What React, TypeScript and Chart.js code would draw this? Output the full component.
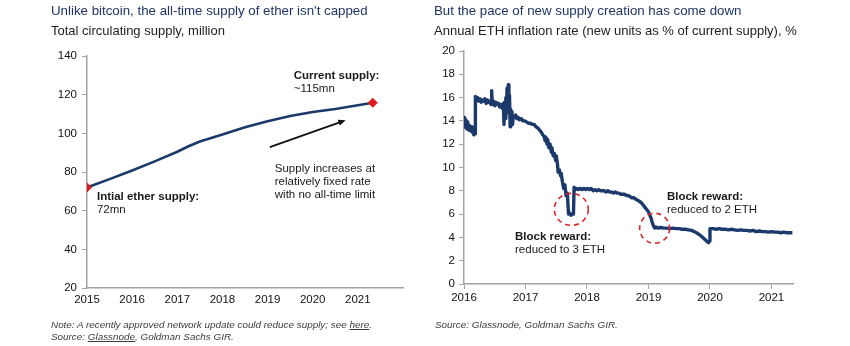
import React, { useEffect, useRef } from 'react';
import { Chart, registerables } from 'chart.js';

Chart.register(...registerables);

// ---------- Data: left panel (total circulating supply, million) ----------
const supplyYears = [
  2015.0, 2015.5, 2016.0, 2016.5, 2017.0, 2017.25, 2017.5, 2017.75, 2018.0,
  2018.5, 2019.0, 2019.5, 2020.0, 2020.5, 2021.0, 2021.33,
];
const supplyValues = [
  72.0, 76.3, 80.8, 85.5, 90.5, 93.3, 95.8, 97.6, 99.4,
  103.2, 106.2, 109.0, 111.0, 112.6, 114.5, 115.8,
];
const supplyXTicks = [2015, 2016, 2017, 2018, 2019, 2020, 2021];
const supplyYTicks = [20, 40, 60, 80, 100, 120, 140];

// ---------- Data: right panel (annual ETH inflation rate, %) ----------
const inflationYears = [
  2016.0, 2016.01, 2016.02, 2016.03, 2016.04, 2016.05, 2016.06, 2016.07, 2016.08, 2016.09,
  2016.1, 2016.11, 2016.12, 2016.13, 2016.14, 2016.15, 2016.16, 2016.17, 2016.18, 2016.185,
  2016.2, 2016.22, 2016.24, 2016.26, 2016.28, 2016.3, 2016.32, 2016.34, 2016.36, 2016.38,
  2016.4, 2016.42, 2016.44, 2016.45, 2016.46, 2016.48, 2016.5, 2016.52, 2016.54, 2016.56,
  2016.58, 2016.6, 2016.62, 2016.64, 2016.65, 2016.66, 2016.67, 2016.68, 2016.69, 2016.7,
  2016.71, 2016.72, 2016.73, 2016.74, 2016.75, 2016.76, 2016.77, 2016.78, 2016.79, 2016.8,
  2016.82, 2016.84, 2016.86, 2016.88, 2016.9, 2016.93, 2016.96, 2016.99, 2017.02, 2017.05,
  2017.08, 2017.11, 2017.14, 2017.17, 2017.2, 2017.23, 2017.26, 2017.28, 2017.3, 2017.32,
  2017.33, 2017.35, 2017.36, 2017.38, 2017.4, 2017.42, 2017.43, 2017.45, 2017.47, 2017.49,
  2017.5, 2017.52, 2017.53, 2017.55, 2017.57, 2017.58, 2017.6, 2017.62, 2017.64, 2017.66,
  2017.68, 2017.7, 2017.72, 2017.74, 2017.76, 2017.78, 2017.79, 2017.81, 2017.83, 2017.86,
  2017.89, 2017.92, 2017.95, 2017.98, 2018.01, 2018.04, 2018.07, 2018.1, 2018.13, 2018.16,
  2018.19, 2018.22, 2018.25, 2018.28, 2018.31, 2018.34, 2018.37, 2018.4, 2018.43, 2018.46,
  2018.49, 2018.52, 2018.55, 2018.58, 2018.61, 2018.64, 2018.67, 2018.7, 2018.73, 2018.76,
  2018.79, 2018.82, 2018.85, 2018.88, 2018.91, 2018.94, 2018.97, 2019.0, 2019.02, 2019.04,
  2019.06, 2019.08, 2019.1, 2019.12, 2019.15, 2019.2, 2019.25, 2019.3, 2019.35, 2019.4,
  2019.45, 2019.5, 2019.55, 2019.6, 2019.65, 2019.7, 2019.74, 2019.78, 2019.82, 2019.86,
  2019.9, 2019.93, 2019.96, 2019.98, 2019.99, 2020.0, 2020.05, 2020.1, 2020.15, 2020.2,
  2020.25, 2020.3, 2020.35, 2020.4, 2020.45, 2020.5, 2020.55, 2020.6, 2020.65, 2020.7,
  2020.75, 2020.8, 2020.85, 2020.9, 2020.95, 2021.0, 2021.05, 2021.1, 2021.15, 2021.2,
  2021.25, 2021.3, 2021.34,
];
const inflationRates = [
  14.3, 13.6, 14.1, 13.4, 13.7, 13.3, 13.9, 13.5, 13.2, 13.6,
  13.3, 13.4, 13.1, 13.5, 13.0, 13.2, 12.8, 13.1, 12.9, 16.1,
  15.8, 16.0, 15.7, 15.9, 15.6, 15.8, 15.7, 15.9, 15.5, 15.8,
  15.6, 15.7, 15.4, 16.6, 15.5, 15.7, 15.3, 15.6, 15.4, 15.5,
  15.2, 15.4, 15.1, 15.5, 13.7, 15.6, 14.2, 16.0, 14.6, 16.8,
  15.0, 17.1, 15.4, 16.2, 13.5, 15.0, 14.2, 14.8, 13.7, 14.4,
  14.3, 14.5, 14.2, 14.3, 14.1, 14.2, 14.0, 14.0, 13.9, 13.8,
  13.8, 13.7, 13.7, 13.5, 13.4, 13.2, 13.0, 12.8, 12.7, 12.3,
  12.6, 12.0, 12.4, 11.7, 12.0, 11.3, 11.7, 11.0, 11.2, 10.6,
  11.0, 10.3, 9.6, 9.8, 9.3, 9.5, 8.8, 8.2, 8.5, 7.6,
  7.8, 6.0, 6.1, 5.9, 6.0, 6.0, 8.3, 8.1, 8.2, 8.1,
  8.2, 8.1, 8.2, 8.1, 8.2, 8.1, 8.2, 8.0, 8.1, 8.0,
  8.1, 8.0, 8.0, 8.0, 7.9, 8.0, 7.9, 7.9, 7.8, 7.9,
  7.8, 7.8, 7.7, 7.7, 7.7, 7.6, 7.6, 7.5, 7.4, 7.4,
  7.3, 7.2, 7.1, 7.0, 6.8, 6.6, 6.4, 6.2, 5.9, 5.7,
  5.3, 5.0, 4.8, 4.9, 4.8, 4.85, 4.8, 4.8, 4.75, 4.8,
  4.75, 4.75, 4.7, 4.7, 4.65, 4.6, 4.5, 4.4, 4.25, 4.1,
  3.9, 3.75, 3.6, 3.55, 3.7, 4.75, 4.75, 4.7, 4.75, 4.7,
  4.7, 4.65, 4.7, 4.65, 4.6, 4.65, 4.6, 4.6, 4.55, 4.6,
  4.5, 4.55, 4.5, 4.5, 4.45, 4.5, 4.45, 4.45, 4.4, 4.45,
  4.4, 4.4, 4.4,
];
const inflationXTicks = [2016, 2017, 2018, 2019, 2020, 2021];
const inflationYTicks = [0, 2, 4, 6, 8, 10, 12, 14, 16, 18, 20];

// ---------- Styles ----------
const FONT = '"Liberation Sans", Arial, Helvetica, sans-serif';
const NAVY = '#1b3a6b';
const AXIS = '#a3a3a3';
const RED = '#e2191c';
const DASH_RED = '#d9262b';

type NoteLine = { text: string; bold?: boolean };
type Note = { x: number; y: number; lines: NoteLine[]; lineGap: number };

const supplyNotes: Note[] = [
  { x: 2019.58, y: 128.0, lineGap: 13, lines: [{ text: 'Current supply:', bold: true }, { text: '~115mn' }] },
  {
    x: 2019.16, y: 79.8, lineGap: 13,
    lines: [{ text: 'Supply increases at' }, { text: 'relatively fixed rate' }, { text: 'with no all-time limit' }],
  },
  { x: 2015.22, y: 65.5, lineGap: 12.8, lines: [{ text: 'Intial ether supply:', bold: true }, { text: '72mn' }] },
];
const supplyArrow = { from: { x: 2019.05, y: 92.9 }, to: { x: 2020.73, y: 106.8 } };

const inflationNotes: Note[] = [
  { x: 2016.83, y: 3.78, lineGap: 13.3, lines: [{ text: 'Block reward:', bold: true }, { text: 'reduced to 3 ETH' }] },
  { x: 2019.3, y: 7.21, lineGap: 12.8, lines: [{ text: 'Block reward:', bold: true }, { text: 'reduced to 2 ETH' }] },
];
const inflationCircles = [
  { x: 2017.745, y: 6.41, rx: 17, ry: 16 },
  { x: 2019.1, y: 4.78, rx: 15, ry: 15 },
];

function drawNotes(chart: any, notes: Note[]) {
  const ctx = chart.ctx as CanvasRenderingContext2D;
  const xs = chart.scales.x;
  const ys = chart.scales.y;
  ctx.save();
  ctx.textAlign = 'left';
  ctx.textBaseline = 'alphabetic';
  ctx.fillStyle = '#1a1a1a';
  for (const n of notes) {
    const px = xs.getPixelForValue(n.x);
    const py = ys.getPixelForValue(n.y);
    n.lines.forEach((l, i) => {
      ctx.font = `${l.bold ? 'bold ' : ''}11.5px ${FONT}`;
      ctx.fillText(l.text, px, py + i * n.lineGap);
    });
  }
  ctx.restore();
}

const supplyPlugin = {
  id: 'supplyNotes',
  afterDatasetsDraw(chart: any) {
    drawNotes(chart, supplyNotes);
    const ctx = chart.ctx as CanvasRenderingContext2D;
    const xs = chart.scales.x;
    const ys = chart.scales.y;
    const x1 = xs.getPixelForValue(supplyArrow.from.x);
    const y1 = ys.getPixelForValue(supplyArrow.from.y);
    const x2 = xs.getPixelForValue(supplyArrow.to.x);
    const y2 = ys.getPixelForValue(supplyArrow.to.y);
    const ang = Math.atan2(y2 - y1, x2 - x1);
    const head = 8;
    ctx.save();
    ctx.strokeStyle = '#111';
    ctx.fillStyle = '#111';
    ctx.lineWidth = 1.8;
    ctx.beginPath();
    ctx.moveTo(x1, y1);
    ctx.lineTo(x2 - Math.cos(ang) * head * 0.8, y2 - Math.sin(ang) * head * 0.8);
    ctx.stroke();
    ctx.beginPath();
    ctx.moveTo(x2, y2);
    ctx.lineTo(x2 - head * Math.cos(ang - 0.4), y2 - head * Math.sin(ang - 0.4));
    ctx.lineTo(x2 - head * Math.cos(ang + 0.4), y2 - head * Math.sin(ang + 0.4));
    ctx.closePath();
    ctx.fill();
    ctx.restore();
  },
};

const inflationPlugin = {
  id: 'inflationNotes',
  afterDatasetsDraw(chart: any) {
    const ctx = chart.ctx as CanvasRenderingContext2D;
    const xs = chart.scales.x;
    const ys = chart.scales.y;
    ctx.save();
    ctx.strokeStyle = DASH_RED;
    ctx.lineWidth = 1.6;
    ctx.setLineDash([5, 4]);
    for (const c of inflationCircles) {
      ctx.beginPath();
      ctx.ellipse(xs.getPixelForValue(c.x), ys.getPixelForValue(c.y), c.rx, c.ry, 0, 0, Math.PI * 2);
      ctx.stroke();
    }
    ctx.restore();
    drawNotes(chart, inflationNotes);
  },
};

const tickFont = { family: FONT, size: 11.5 };

function axisBase(ticks: number[], min: number, max: number, fit: (s: any) => void, extra: any) {
  return {
    type: 'linear',
    min,
    max,
    afterBuildTicks: (s: any) => {
      s.ticks = ticks.map((v) => ({ value: v }));
    },
    afterFit: fit,
    border: { display: true, color: AXIS, width: 1.5 },
    ...extra,
  };
}

function SupplyChart() {
  const ref = useRef<HTMLCanvasElement | null>(null);
  useEffect(() => {
    if (!ref.current) return;
    const chart = new Chart(ref.current, {
      type: 'line',
      data: {
        datasets: [
          {
            data: supplyYears.map((x, i) => ({ x, y: supplyValues[i] })),
            borderColor: NAVY,
            borderWidth: 2.6,
            tension: 0,
            pointStyle: 'rectRot',
            pointRadius: (c: any) => (c.dataIndex === 0 || c.dataIndex === supplyYears.length - 1 ? 5 : 0),
            pointBackgroundColor: RED,
            pointBorderColor: RED,
            pointBorderWidth: 0,
          },
        ],
      },
      options: {
        responsive: false,
        animation: false,
        layout: { padding: { left: 47, right: 22, top: 56, bottom: 28 } },
        plugins: { legend: { display: false }, tooltip: { enabled: false }, title: { display: false } },
        scales: {
          x: axisBase(supplyXTicks, 2015, 2022, (s) => { s.height = 30; }, {
            grid: { display: true, drawOnChartArea: false, drawTicks: false },
            ticks: { font: tickFont, color: '#111', padding: 5, maxRotation: 0, callback: (v: any) => String(v) },
          }),
          y: axisBase(supplyYTicks, 20, 140, (s) => { s.width = 40; }, {
            grid: { display: true, drawOnChartArea: false, drawTicks: true, tickLength: 5, color: AXIS, lineWidth: 1 },
            ticks: { font: tickFont, color: '#111', padding: 5, callback: (v: any) => String(v) },
          }),
        },
      } as any,
      plugins: [supplyPlugin],
    });
    return () => chart.destroy();
  }, []);
  return <canvas ref={ref} width={425} height={346} style={{ display: 'block' }} />;
}

function InflationChart() {
  const ref = useRef<HTMLCanvasElement | null>(null);
  useEffect(() => {
    if (!ref.current) return;
    const chart = new Chart(ref.current, {
      type: 'line',
      data: {
        datasets: [
          {
            data: inflationYears.map((x, i) => ({ x, y: inflationRates[i] })),
            borderColor: NAVY,
            borderWidth: 3.4,
            borderJoinStyle: 'round',
            tension: 0,
            pointRadius: 0,
          },
        ],
      },
      options: {
        responsive: false,
        animation: false,
        layout: { padding: { left: 9, right: 57, top: 51, bottom: 32 } },
        plugins: { legend: { display: false }, tooltip: { enabled: false }, title: { display: false } },
        scales: {
          x: axisBase(inflationXTicks, 2016, 2021.35, (s) => { s.height = 30; }, {
            grid: { display: true, drawOnChartArea: false, drawTicks: true, tickLength: 5, color: AXIS, lineWidth: 1 },
            ticks: { font: tickFont, color: '#111', padding: 1.5, maxRotation: 0, callback: (v: any) => String(v) },
          }),
          y: axisBase(inflationYTicks, 0, 20, (s) => { s.width = 30; }, {
            grid: { display: true, drawOnChartArea: false, drawTicks: true, tickLength: 5, color: AXIS, lineWidth: 1 },
            ticks: { font: tickFont, color: '#111', padding: 4, callback: (v: any) => String(v) },
          }),
        },
      } as any,
      plugins: [inflationPlugin],
    });
    return () => chart.destroy();
  }, []);
  return <canvas ref={ref} width={425} height={346} style={{ display: 'block' }} />;
}

const abs = (left: number, top: number, extra: React.CSSProperties = {}): React.CSSProperties => ({
  position: 'absolute',
  left,
  top,
  whiteSpace: 'nowrap',
  fontFamily: FONT,
  ...extra,
});

const titleStyle: React.CSSProperties = { fontSize: '13.3px', lineHeight: '15px', color: '#1f3564' };
const subStyle: React.CSSProperties = { fontSize: '13px', lineHeight: '15px', color: '#222' };
const footStyle: React.CSSProperties = { fontSize: '9.9px', lineHeight: '12px', color: '#3c3c3c', fontStyle: 'italic' };

export default function App() {
  return (
    <div style={{ position: 'fixed', left: 0, top: 0, width: 850, height: 346, background: '#fff', overflow: 'hidden' }}>
      <div style={{ position: 'absolute', left: 0, top: 0 }}>
        <SupplyChart />
      </div>
      <div style={{ position: 'absolute', left: 425, top: 0 }}>
        <InflationChart />
      </div>
      <div style={abs(51, 3, titleStyle)}>Unlike bitcoin, the all-time supply of ether isn't capped</div>
      <div style={abs(51, 22.5, subStyle)}>Total circulating supply, million</div>
      <div style={abs(434, 3, titleStyle)}>But the pace of new supply creation has come down</div>
      <div style={abs(434, 22.5, subStyle)}>Annual ETH inflation rate (new units as % of current supply), %</div>
      <div style={abs(51, 319, footStyle)}>
        Note: A recently approved network update could reduce supply; see <span style={{ textDecoration: 'underline' }}>here</span>.
      </div>
      <div style={abs(51, 331, footStyle)}>
        Source: <span style={{ textDecoration: 'underline' }}>Glassnode</span>, Goldman Sachs GIR.
      </div>
      <div style={abs(435, 319, footStyle)}>Source: Glassnode, Goldman Sachs GIR.</div>
    </div>
  );
}
